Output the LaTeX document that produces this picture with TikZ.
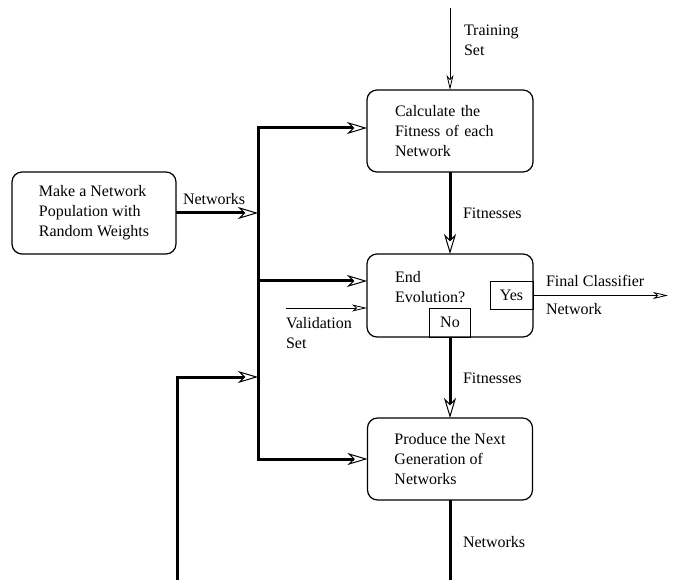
\documentclass[tikz,border=0pt]{standalone}
\usepackage{fontspec}
\setmainfont{Liberation Serif}
\usetikzlibrary{arrows.meta}

\begin{document}
\begin{tikzpicture}[x=1pt,y=-1pt]
\tikzstyle{every node}+=[inner sep=0pt, outer sep=0pt, font=\fontsize{16}{20}\selectfont]
\tikzstyle{procbox}=[draw, line width=1.2pt, rounded corners=10pt, align=left]
\tikzstyle{tagbox}=[draw, line width=1pt]
\tikzstyle{thickarrow}=[line width=3pt, -{Stealth[open, length=20pt, width=12pt, inset=6pt, line width=1pt]}]
\tikzstyle{thinarrow}=[line width=1pt, -{Stealth[open, length=15pt, width=7pt, inset=4pt, line width=0.8pt]}]
\tikzstyle{thickline}=[line width=3pt]
\useasboundingbox (0,0) rectangle (675,580);
% boxes
\node[procbox, minimum width=166pt, minimum height=82pt, text width=110pt] (calc) at (450,131) {Calculate the\\Fitness of each\\Network};
\node[procbox, minimum width=164pt, minimum height=82pt] (make) at (94,213) {Make a Network\\Population with\\Random Weights};
\node[procbox, minimum width=166pt, minimum height=83pt] (endbox) at (450,295.5) {};
\node[tagbox, minimum width=43pt, minimum height=27pt, anchor=east] (yes) at (endbox.east) {Yes};
\node[tagbox, minimum width=41pt, minimum height=29pt, anchor=south] (no) at (endbox.south) {No};
\node[procbox, minimum width=165pt, minimum height=82pt] (produce) at (450,459) {Produce the Next\\Generation of\\Networks};
% free ends and junctions
\coordinate (trainin) at (450,8);
\coordinate (bustop) at (258,128);
\coordinate (busmid) at (258,281);
\coordinate (busbot) at (258,459);
\coordinate (loopin) at (258,377);
\coordinate (loopcorner) at (177,377);
\coordinate (loopfoot) at (177,580);
\coordinate (outfoot) at (450,580);
\coordinate (valin) at (286,308);
\coordinate (finalout) at (668,0);
% connectors
\draw[thinarrow] (trainin) -- (calc.north);
\draw[thickarrow] (calc.south) -- (endbox.north);
\draw[thickarrow] (no.south) -- (produce.north);
\draw[thickline] (produce.south) -- (outfoot);
\draw[thickarrow] (loopfoot) -- (loopcorner) -- (loopin);
\draw[thickarrow] (busbot) -- (bustop) -- (bustop -| calc.west);
\draw[thickarrow] (bustop) -- (busbot) -- (produce.west);
\draw[thickarrow] (busmid) -- (busmid -| endbox.west);
\draw[thickarrow] (make.east) -- (make.east -| bustop);
\draw[thinarrow] (valin) -- (valin -| endbox.west);
\draw[thinarrow] (yes.east) -- (yes.east -| finalout);
% labels (base = last line)
\node[anchor=base west, align=left] (trainlbl) at (464,56) {Training\\Set};
\node[anchor=base west] (netlbl) at (183,205) {Networks};
\node[anchor=base west] (fitlbl) at (463,219) {Fitnesses};
\node[anchor=base west, align=left] (vallbl) at (286,348) {Validation\\Set};
\node[anchor=base west, align=left] (endlbl) at (395,302) {End\\Evolution?};
\node[anchor=base west] (finallbl) at (546,287) {Final Classifier};
\node[anchor=base west] (finalnet) at (546,315) {Network};
\node[anchor=base west] (fitlbl2) at (463,383) {Fitnesses};
\node[anchor=base west] (netlbl2) at (463,547) {Networks};
\end{tikzpicture}
\end{document}
